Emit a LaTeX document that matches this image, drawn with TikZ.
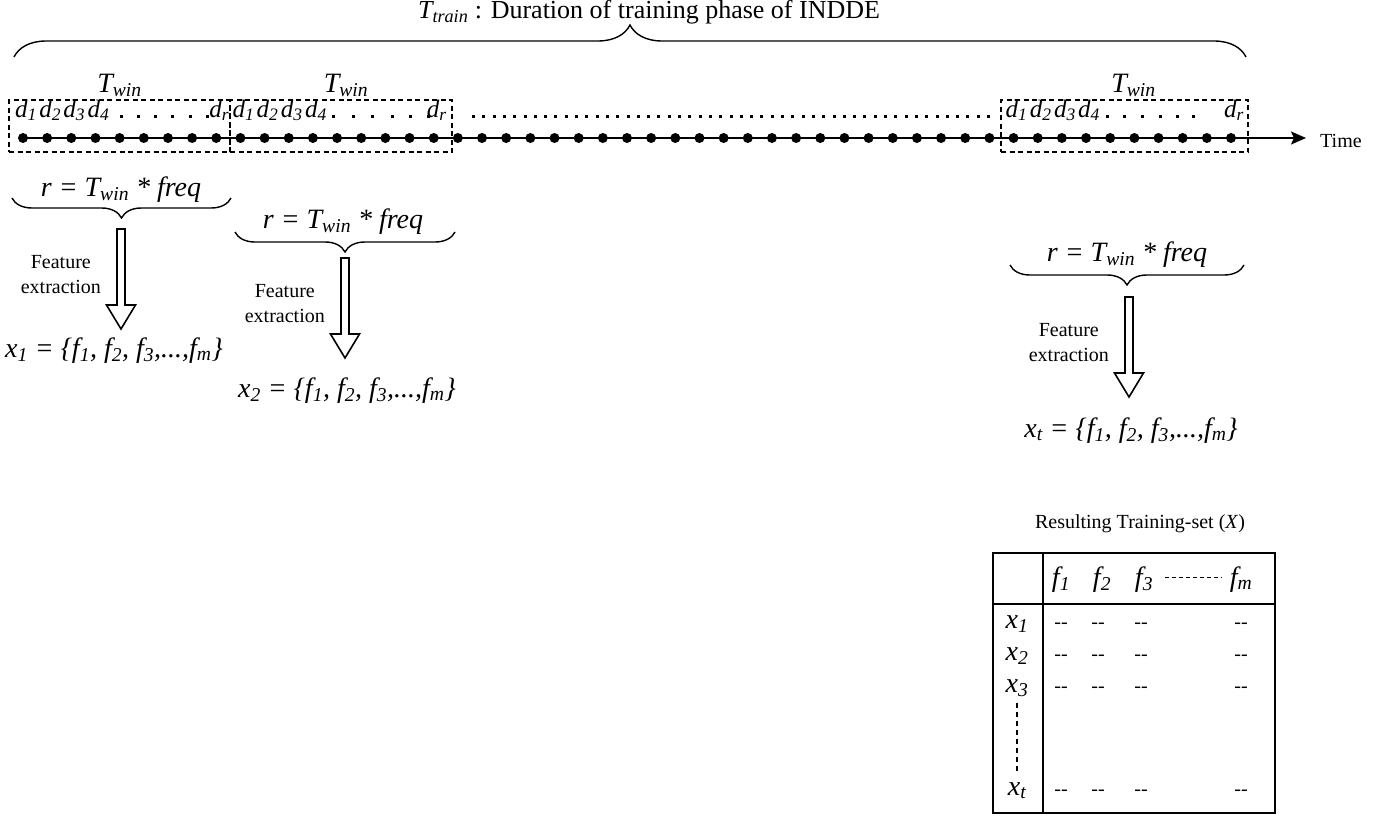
\documentclass[tikz,border=0pt]{standalone}
\usepackage{fontspec}
\setmainfont{Liberation Serif}
\usetikzlibrary{arrows.meta,positioning,calc,fit,decorations.pathreplacing}
\newcommand{\idx}[1]{\textsubscript{#1}}
\tikzset{
  big/.style={font=\fontsize{28}{32}\selectfont\itshape,inner sep=0pt},
  dlab/.style={font=\fontsize{25}{28}\selectfont\itshape,inner sep=0pt},
  note/.style={font=\fontsize{20}{25}\selectfont,align=center,inner sep=0pt},
  cell/.style={font=\fontsize{20}{23}\selectfont,inner sep=0pt,anchor=base},
  sample/.style={circle,fill=black,inner sep=0pt,minimum size=10pt},
  window/.style={draw,line width=1.3pt,dash pattern=on 5pt off 3.5pt,inner sep=0pt},
  span/.style={decorate,decoration={brace,amplitude=#1},line width=1.4pt},
  timeaxis/.style={-{Stealth[length=15pt,width=13pt,inset=3pt]},line width=2pt},
  hollow/.style={draw,line width=1.6pt,line join=miter,fill=white},
  dotrow/.style={line width=3pt,dash pattern=on 3pt off 7.3pt},
  grid/.style={line width=2pt},
  vdash/.style={line width=1.3pt,dash pattern=on 5pt off 4pt}
}

\begin{document}
\begin{tikzpicture}[x=1pt,y=-1pt]
  \useasboundingbox (0,0) rectangle (1392,816);

  % time axis with the samples
  \foreach \i in {0,...,50}
    \node[sample] (s\i) at ({23+24.16*\i},138) {};
  \coordinate (tend) at (1306,138);
  \draw[timeaxis] (s0.center) -- (tend);
  \node[note,right=14pt of tend,yshift=-3pt] (time) {Time};

  % windows
  \node[window,fit={(9,100) (230,152)}] (win1) {};
  \node[window,fit={(230,100) (452,152)}] (win2) {};
  \node[window,fit={(1001,100) (1248,152)}] (win3) {};
  \foreach \w/\dx in {1/0,2/5,3/9}
    \node[big,anchor=base] (tw\w) at ($(win\w.north)+(\dx,-7)$) {T\idx{win}};

  \foreach \s/\k in {0/1,1/2,2/3,3/4,8/r,9/1,10/2,11/3,12/4,17/r,41/1,42/2,43/3,44/4,50/r}
    \node[dlab,anchor=base] (d\s) at ($(s\s)+(3,-21)$) {d\idx{\k}};
  \foreach \x in {121,138,155,172,190,207,333,353,372,392,410,428,1107,1124,1142,1160,1177,1193}
    \fill (\x-1.5,114.5) rectangle ++(3,3);
  \draw[dotrow] (472,116) -- (992,116);

  % training phase
  \draw[span=32pt] (14,57) -- (1246,57);
  \node[anchor=base,inner sep=0pt,font=\fontsize{26}{30}\selectfont] (title) at (649,19)
    {\textit{T\idx{train}} : Duration of training phase of INDDE};

  % feature extraction per window
  \draw[span=20pt] (231,198) -- (12,198);
  \draw[span=20pt] (455,232) -- (235,232);
  \draw[span=20pt] (1244,265) -- (1010,265);
  \node[big,anchor=base] (r1) at (121,196) {r = T\idx{win} * freq};
  \node[big,anchor=base] (r2) at (343,228) {r = T\idx{win} * freq};
  \node[big,anchor=base] (r3) at (1127,261) {r = T\idx{win} * freq};

  \coordinate (a1) at (121,229);
  \coordinate (a2) at (345,258);
  \coordinate (a3) at (1129,297);
  \foreach \a in {a1,a2,a3}{
    \draw[hollow] (\a) ++(-4,0) -- ++(0,76) -- ++(-10.5,0) -- ++(14.5,24) -- ++(14.5,-24) -- ++(-10.5,0) -- ++(0,-76) -- cycle;
    \node[note,anchor=east] (fe\a) at ($(\a)+(-20,46)$) {Feature\\extraction};
  }

  \node[big,anchor=base] (x1) at (114,357) {x\idx{1} = \{f\idx{1}, f\idx{2}, f\idx{3},...,f\idx{m}\}};
  \node[big,anchor=base] (x2) at (347,397) {x\idx{2} = \{f\idx{1}, f\idx{2}, f\idx{3},...,f\idx{m}\}};
  \node[big,anchor=base] (xt) at (1131,437) {x\idx{t} = \{f\idx{1}, f\idx{2}, f\idx{3},...,f\idx{m}\}};

  % resulting training set
  \node[note,anchor=base] (restitle) at (1140,528) {Resulting Training-set (\textit{X})};
  \node[draw,grid,inner sep=0pt,fit={(993,553) (1275,813)}] (tbl) {};
  \draw[grid] (993,604) -- (1275,604);
  \draw[grid] (1043,553) -- (1043,813);
  \foreach \x/\k in {1061/1,1102/2,1144/3,1241/m}
    \node[big,anchor=base] (h\k) at (\x,586) {f\idx{\k}};
  \draw[line width=1pt,dash pattern=on 4pt off 3pt] (1165,577) -- (1222,577);
  \foreach \y/\k in {628/1,660/2,692/3,795/t}{
    \node[big,anchor=base] (rx\k) at (1017,\y) {x\idx{\k}};
    \foreach \x in {1061,1098,1141,1241}
      \node[cell] at (\x,\y) {-{}-};
  }
  \draw[vdash,shorten <=6pt,shorten >=9pt] (rx3.south) -- (rx3.south |- rxt.north);
\end{tikzpicture}
\end{document}
